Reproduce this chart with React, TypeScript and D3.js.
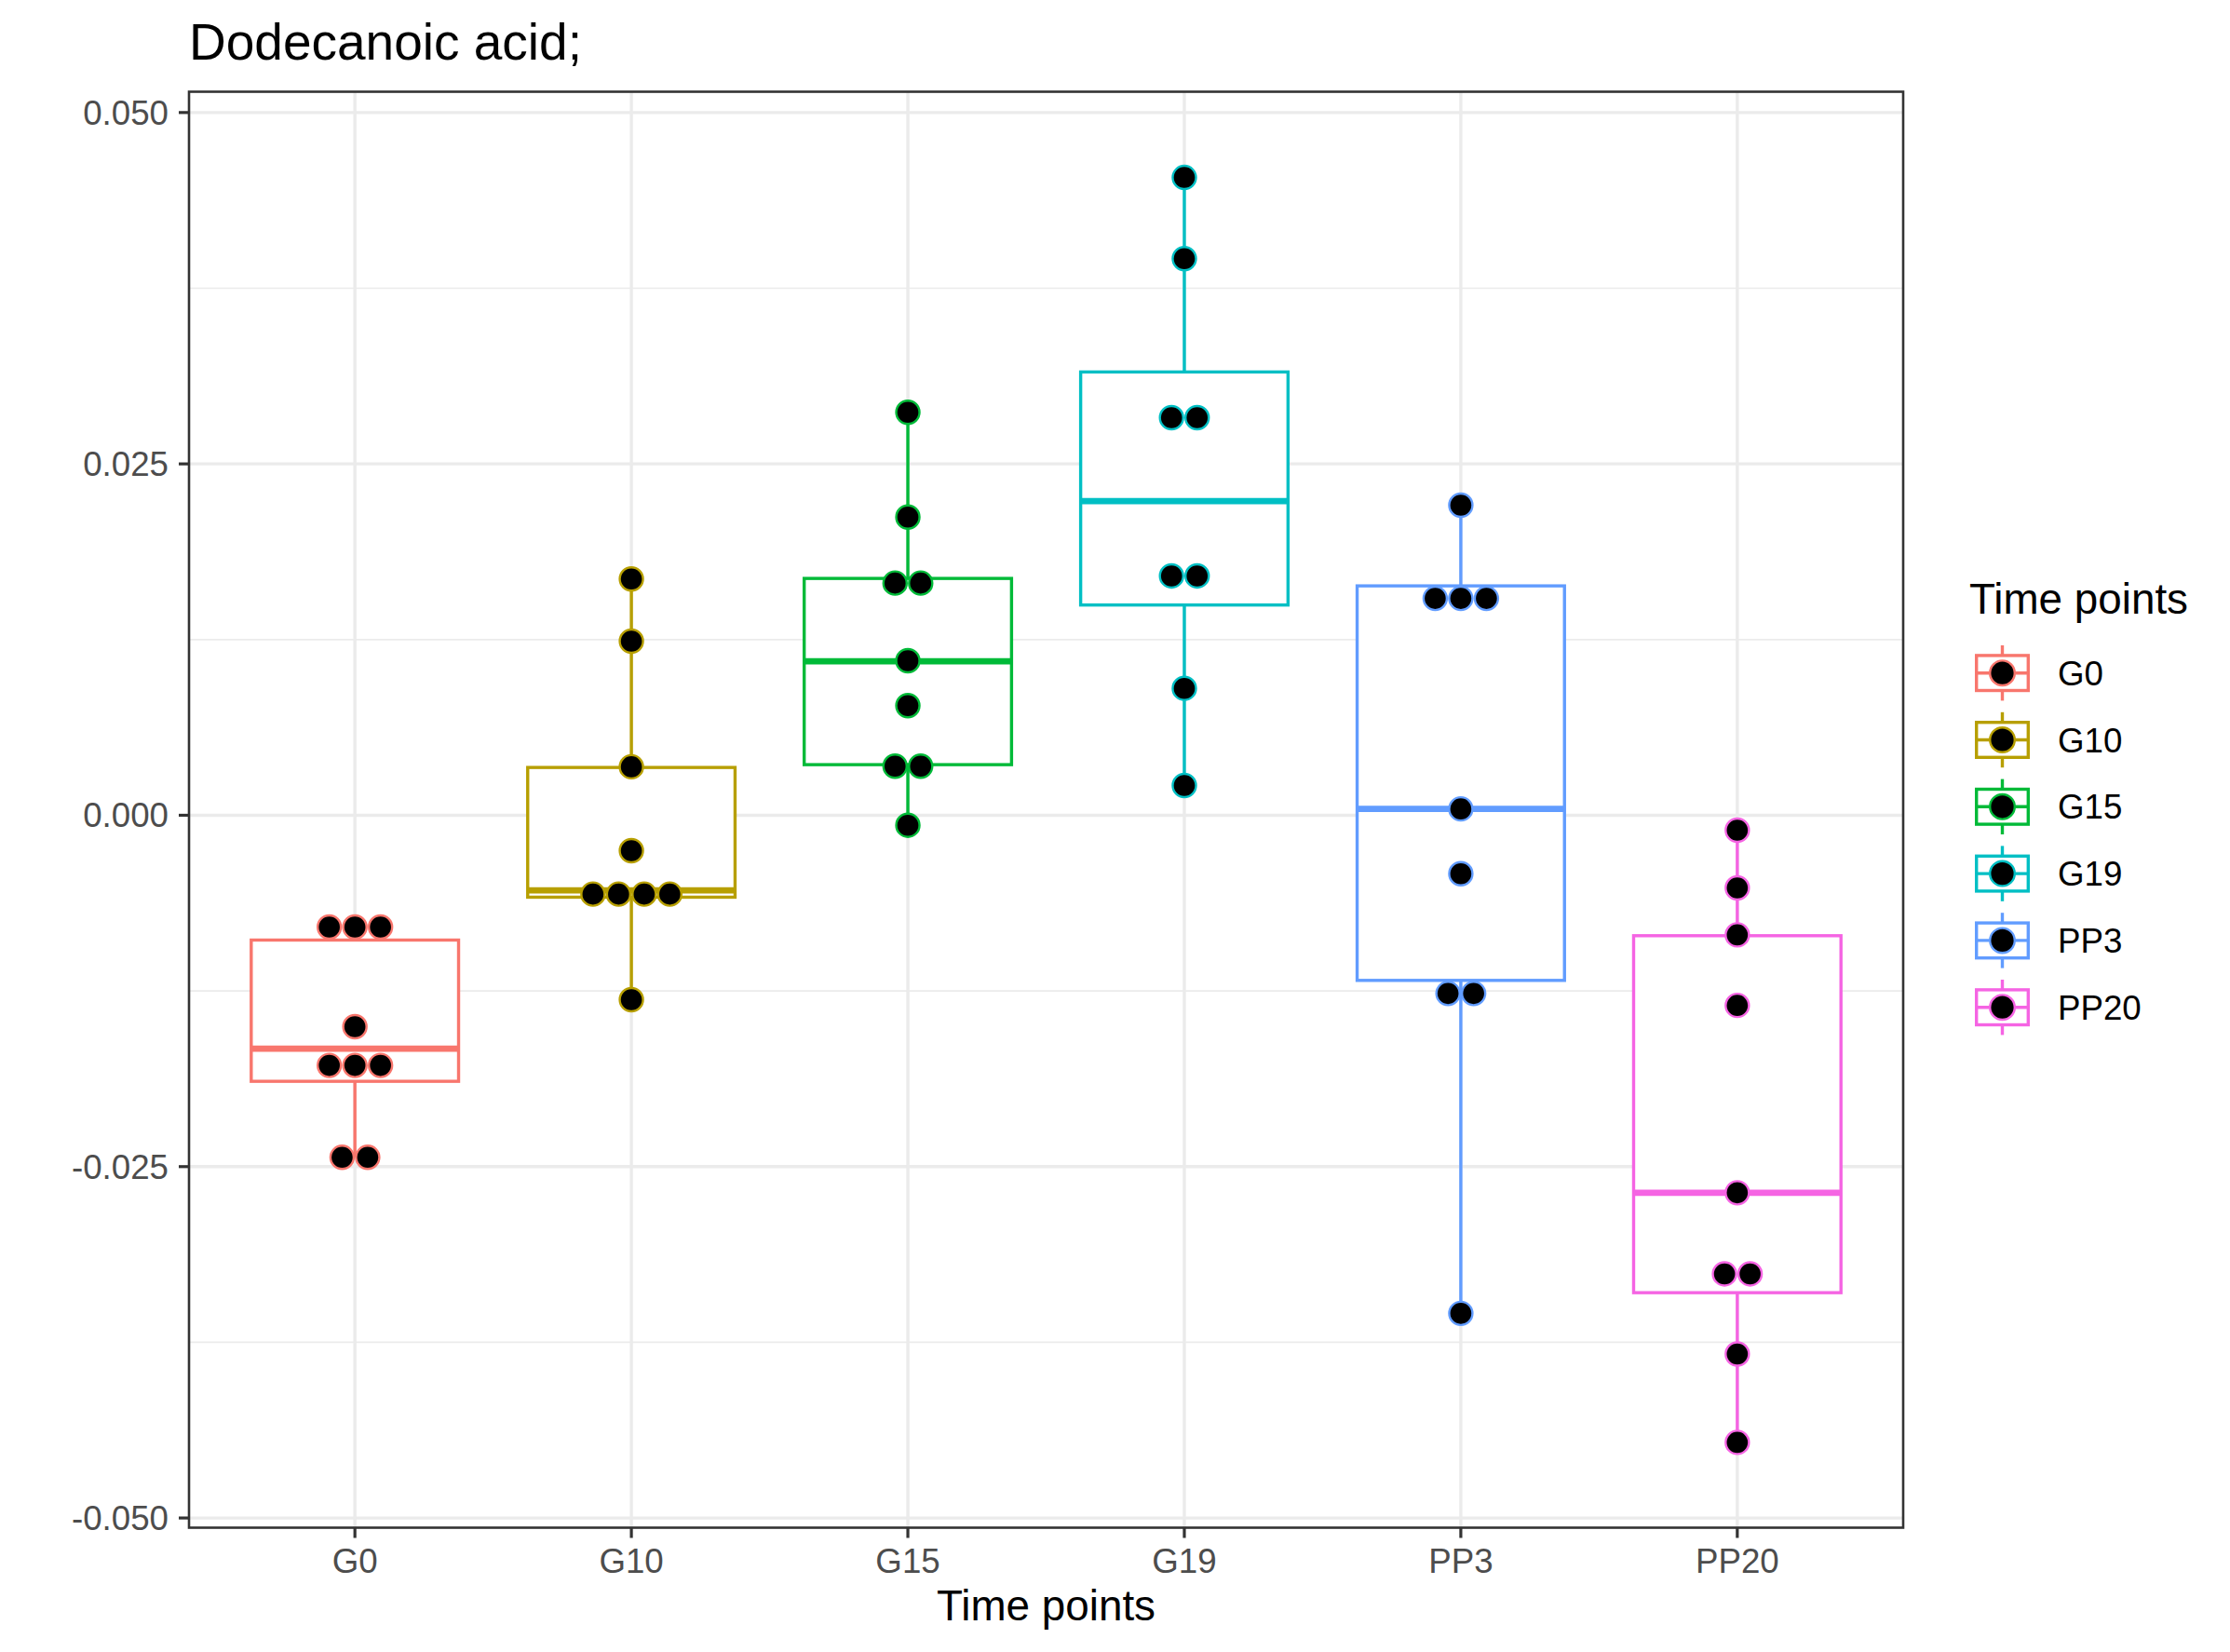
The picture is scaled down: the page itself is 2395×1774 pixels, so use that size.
import React from "react";
import * as d3 from "d3";

const categories = ["G0", "G10", "G15", "G19", "PP3", "PP20"];
const palette = ["#F8766D", "#B79F00", "#00BA38", "#00BFC4", "#619CFF", "#F564E3"];

// dot (binned) values per group
const dotsG0 = [-0.00795, -0.00795, -0.00795, -0.01504, -0.0178, -0.0178, -0.0178, -0.02434, -0.02434];
const dotsG10 = [0.01681, 0.01239, 0.00345, -0.00252, -0.00561, -0.00561, -0.00561, -0.00561, -0.01312];
const dotsG15 = [0.02867, 0.02122, 0.01652, 0.01652, 0.011, 0.0078, 0.00349, 0.00349, -0.00071];
const dotsG19 = [0.04538, 0.0396, 0.02829, 0.02829, 0.01703, 0.01703, 0.00903, 0.00212];
const dotsPP3 = [0.02206, 0.01543, 0.01543, 0.01543, 0.00045, -0.00416, -0.01268, -0.01268, -0.03544];
const dotsPP20 = [-0.00106, -0.00517, -0.00851, -0.01353, -0.02686, -0.03263, -0.03263, -0.03833, -0.04462];
const dotGroups = [dotsG0, dotsG10, dotsG15, dotsG19, dotsPP3, dotsPP20];

// box statistics
const boxQ1 = [-0.01893, -0.00583, 0.0036, 0.01496, -0.01175, -0.03397];
const boxMedian = [-0.01661, -0.00534, 0.01096, 0.02235, 0.00045, -0.02686];
const boxQ3 = [-0.00888, 0.0034, 0.01685, 0.03154, 0.01632, -0.00857];
const whiskerLow = [-0.02434, -0.01312, -0.00071, 0.00212, -0.03544, -0.04462];
const whiskerHigh = [-0.00795, 0.01681, 0.02867, 0.04538, 0.02206, -0.00106];

const yTicks = [-0.05, -0.025, 0, 0.025, 0.05];
const yMinorTicks = [-0.0375, -0.0125, 0.0125, 0.0375];
const yDomain = [-0.05069, 0.05148];

const titleText = "Dodecanoic acid;";
const xTitle = "Time points";
const legendTitle = "Time points";

const W = 2395;
const H = 1774;
const panel = { left: 203, right: 2044, top: 98.5, bottom: 1640.5 };
const FONT = "'Liberation Sans', Arial, Helvetica, sans-serif";

const locale = d3.formatLocale({ decimal: ".", thousands: ",", grouping: [3], currency: ["", ""], minus: "-" });
const fmt = locale.format(".3f");

export default function App() {
  const x = d3.scalePoint<string>().domain(categories).range([panel.left, panel.right]).padding(0.6);
  const y = d3.scaleLinear().domain(yDomain).range([panel.bottom, panel.top]);
  const step = x.step();
  const boxW = step * 0.75;
  const dotR = 12.5;
  const dotSpacing = 27.5;
  const lineW = 3.4;

  const legendRowY = (i: number) => 722.7 + i * 71.8;
  const keyCx = 2150.5;

  return (
    <svg width={W} height={H} style={{ position: "absolute", left: 0, top: 0, background: "#fff" }} fontFamily={FONT}>
      <rect x={0} y={0} width={W} height={H} fill="#fff" />
      {/* grid */}
      {yMinorTicks.map((t) => (
        <line key={"mn" + t} x1={panel.left} x2={panel.right} y1={y(t)} y2={y(t)} stroke="#EBEBEB" strokeWidth={1.7} />
      ))}
      {yTicks.map((t) => (
        <line key={"mj" + t} x1={panel.left} x2={panel.right} y1={y(t)} y2={y(t)} stroke="#EBEBEB" strokeWidth={3.4} />
      ))}
      {categories.map((c) => (
        <line key={"vx" + c} x1={x(c)} x2={x(c)} y1={panel.top} y2={panel.bottom} stroke="#EBEBEB" strokeWidth={3.4} />
      ))}

      {/* boxplots */}
      {categories.map((c, i) => {
        const cx = x(c) as number;
        const col = palette[i];
        return (
          <g key={"box" + c}>
            <line x1={cx} x2={cx} y1={y(boxQ3[i])} y2={y(whiskerHigh[i])} stroke={col} strokeWidth={lineW} />
            <line x1={cx} x2={cx} y1={y(boxQ1[i])} y2={y(whiskerLow[i])} stroke={col} strokeWidth={lineW} />
            <rect
              x={cx - boxW / 2}
              y={y(boxQ3[i])}
              width={boxW}
              height={y(boxQ1[i]) - y(boxQ3[i])}
              fill="#fff"
              stroke={col}
              strokeWidth={lineW}
            />
            <line x1={cx - boxW / 2} x2={cx + boxW / 2} y1={y(boxMedian[i])} y2={y(boxMedian[i])} stroke={col} strokeWidth={lineW * 2} />
          </g>
        );
      })}

      {/* dots */}
      {categories.map((c, i) => {
        const cx = x(c) as number;
        const col = palette[i];
        const groups = d3.groups(dotGroups[i], (v) => v);
        return (
          <g key={"dots" + c}>
            {groups.map(([v, arr]) =>
              arr.map((_, k) => {
                const n = arr.length;
                const dx = (k - (n - 1) / 2) * dotSpacing;
                return (
                  <circle key={v + "_" + k} cx={cx + dx} cy={y(v)} r={dotR} fill="#000" stroke={col} strokeWidth={2.4} />
                );
              })
            )}
          </g>
        );
      })}

      {/* panel border */}
      <rect
        x={panel.left}
        y={panel.top}
        width={panel.right - panel.left}
        height={panel.bottom - panel.top}
        fill="none"
        stroke="#333333"
        strokeWidth={2.6}
      />

      {/* y axis */}
      {yTicks.map((t) => (
        <g key={"yt" + t}>
          <line x1={panel.left - 11} x2={panel.left} y1={y(t)} y2={y(t)} stroke="#333333" strokeWidth={3.2} />
          <text x={panel.left - 22} y={y(t) + 13} textAnchor="end" fontSize={36.7} fill="#4D4D4D">
            {fmt(t)}
          </text>
        </g>
      ))}

      {/* x axis */}
      {categories.map((c) => (
        <g key={"xt" + c}>
          <line x1={x(c)} x2={x(c)} y1={panel.bottom} y2={panel.bottom + 11} stroke="#333333" strokeWidth={3.2} />
          <text x={x(c)} y={1689} textAnchor="middle" fontSize={36.7} fill="#4D4D4D">
            {c}
          </text>
        </g>
      ))}

      {/* titles */}
      <text x={(panel.left + panel.right) / 2} y={1740} textAnchor="middle" fontSize={45.8} fill="#000">
        {xTitle}
      </text>
      <text x={panel.left} y={63.5} fontSize={55} fill="#000">
        {titleText}
      </text>

      {/* legend */}
      <text x={2115} y={659} fontSize={45.8} fill="#000">
        {legendTitle}
      </text>
      {categories.map((c, i) => {
        const cy = legendRowY(i);
        const col = palette[i];
        return (
          <g key={"lg" + c}>
            <line x1={keyCx} x2={keyCx} y1={cy - 29.7} y2={cy + 29.7} stroke={col} strokeWidth={lineW} />
            <rect x={keyCx - 27.8} y={cy - 18.8} width={55.6} height={37.6} fill="#fff" stroke={col} strokeWidth={lineW} />
            <line x1={keyCx - 27.8} x2={keyCx + 27.8} y1={cy} y2={cy} stroke={col} strokeWidth={lineW} />
            <circle cx={keyCx} cy={cy} r={13.3} fill="#000" stroke={col} strokeWidth={2.4} />
            <text x={2210} y={cy + 13} fontSize={36.7} fill="#000">
              {c}
            </text>
          </g>
        );
      })}
    </svg>
  );
}
